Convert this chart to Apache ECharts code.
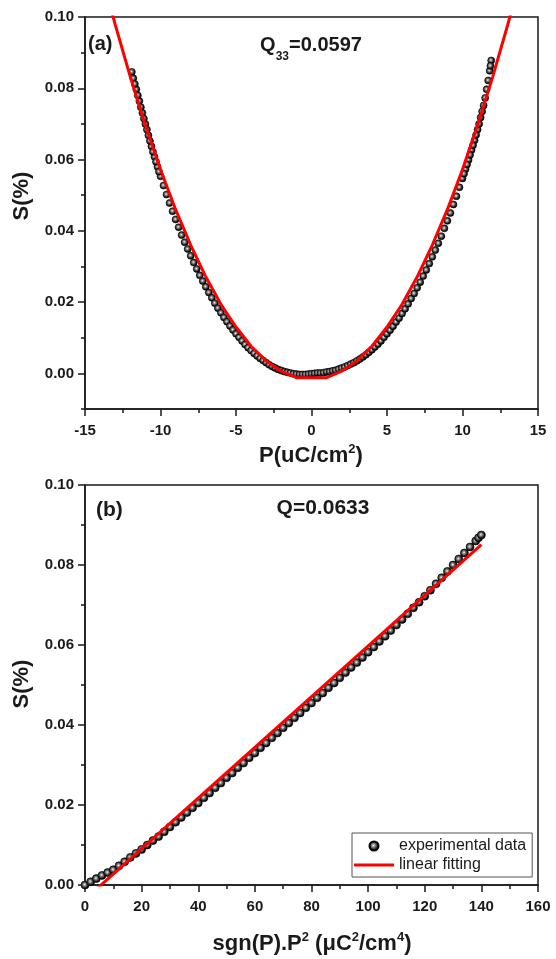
<!DOCTYPE html>
<html>
<head>
<meta charset="utf-8">
<script src="https://cdn.jsdelivr.net/npm/echarts@6/dist/echarts.min.js"></script>
<style>
  html, body { margin: 0; padding: 0; background: #fff; }
  #main { width: 556px; height: 959px; }
</style>
</head>
<body>
<div id="main"></div>
<script>
  // (a) S vs P, experimental points (end points near |P|>10 appended at the end)
  var topP = [-11.9, -11.8, -11.6, -11.4, -11.2, -11.0, -10.8, -10.6, -10.4, -10.2, -10.0, -9.8, -9.6, -9.4, -9.2, -9.0,
    -8.8, -8.6, -8.4, -8.2, -8.0, -7.8, -7.6, -7.4, -7.2, -7.0, -6.8, -6.6, -6.4, -6.2, -6.0, -5.8, -5.6, -5.4, -5.2, -5.0,
    -4.8, -4.6, -4.4, -4.2, -4.0, -3.8, -3.6, -3.4, -3.2, -3.0, -2.8, -2.6, -2.4, -2.2, -2.0, -1.8, -1.6, -1.4, -1.2, -1.0,
    -0.8, -0.6, -0.4, -0.2, 0.0,
    0.2, 0.4, 0.6, 0.8, 1.0, 1.2, 1.4, 1.6, 1.8, 2.0, 2.2, 2.4, 2.6, 2.8, 3.0, 3.2, 3.4, 3.6, 3.8, 4.0,
    4.2, 4.4, 4.6, 4.8, 5.0, 5.2, 5.4, 5.6, 5.8, 6.0, 6.2, 6.4, 6.6, 6.8, 7.0, 7.2, 7.4, 7.6, 7.8, 8.0,
    8.2, 8.4, 8.6, 8.8, 9.0, 9.2, 9.4, 9.6, 9.8, 10.0, 10.2, 10.4, 10.6, 10.8, 11.0, 11.2, 11.4, 11.6, 11.8, 11.9,
    -11.7, -11.5, -11.3, -11.1, -10.9, -10.7, -10.5, -10.3, -10.1,
    10.1, 10.3, 10.5, 10.7, 10.9, 11.1, 11.3, 11.5, 11.7, 11.85];
  var topS = [0.0846, 0.0828, 0.0797, 0.0764, 0.0731, 0.0700, 0.0668, 0.0637, 0.0608, 0.0580, 0.0553, 0.0527, 0.0502, 0.0478, 0.0455, 0.0432,
    0.0410, 0.0388, 0.0368, 0.0349, 0.0330, 0.0311, 0.0293, 0.0275, 0.0259, 0.0243, 0.0227, 0.0212, 0.0197, 0.0183, 0.0170, 0.0157, 0.0145, 0.0133, 0.0122, 0.0111,
    0.0101, 0.0091, 0.0081, 0.0072, 0.0064, 0.0056, 0.0049, 0.0042, 0.0036, 0.0030, 0.0024, 0.0019, 0.0015, 0.0011, 0.0008, 0.0005, 0.0003, 0.0001, -0.0001, -0.0002,
    -0.0003, -0.0003, -0.0003, -0.0002, -0.0001,
    0.0000, 0.0001, 0.0001, 0.0002, 0.0004, 0.0005, 0.0007, 0.0009, 0.0012, 0.0015, 0.0018, 0.0022, 0.0026, 0.0030, 0.0035, 0.0040, 0.0046, 0.0052, 0.0059, 0.0066,
    0.0074, 0.0082, 0.0091, 0.0101, 0.0111, 0.0121, 0.0132, 0.0144, 0.0155, 0.0168, 0.0181, 0.0195, 0.0210, 0.0224, 0.0240, 0.0256, 0.0273, 0.0290, 0.0308, 0.0327,
    0.0346, 0.0365, 0.0385, 0.0407, 0.0428, 0.0450, 0.0474, 0.0497, 0.0522, 0.0547, 0.0573, 0.0599, 0.0627, 0.0654, 0.0684, 0.0718, 0.0752, 0.0797, 0.0849, 0.0878,
    0.0812, 0.0780, 0.0747, 0.0715, 0.0684, 0.0652, 0.0622, 0.0594, 0.0566,
    0.0560, 0.0586, 0.0613, 0.0640, 0.0669, 0.0700, 0.0735, 0.0773, 0.0822, 0.0863];

  // (a) quadratic fit
  var topFitP = [-13.5, -13, -12, -11, -10, -9, -8, -7, -6, -5, -4, -3, -2, -1, 1, 2, 3, 4, 5, 6, 7, 8, 9, 10, 11, 12, 13, 13.5];
  var topFitS = [0.1057, 0.0979, 0.0832, 0.0696, 0.0572, 0.0460, 0.0360, 0.0271, 0.0194, 0.0130, 0.0076, 0.0035, 0.0006, -0.0012,
    -0.0012, 0.0006, 0.0035, 0.0076, 0.0130, 0.0194, 0.0271, 0.0360, 0.0460, 0.0572, 0.0696, 0.0832, 0.0979, 0.1057];

  // (b) S vs sgn(P).P^2
  var botX = [0, 2, 4, 6, 8, 10, 12, 14, 16, 18, 20, 22, 24, 26, 28, 30, 32, 34, 36, 38, 40, 42, 44, 46, 48, 50,
    52, 54, 56, 58, 60, 62, 64, 66, 68, 70, 72, 74, 76, 78, 80, 82, 84, 86, 88, 90, 92, 94, 96, 98, 100,
    102, 104, 106, 108, 110, 112, 114, 116, 118, 120, 122, 124, 126, 128, 130, 132, 134, 136, 138, 139, 140];
  var botS = [0.0000, 0.0008, 0.0016, 0.0024, 0.0031, 0.0038, 0.0048, 0.0058, 0.0069, 0.0079, 0.0089, 0.0100, 0.0111, 0.0121, 0.0133, 0.0145,
    0.0157, 0.0169, 0.0181, 0.0193, 0.0205, 0.0218, 0.0230, 0.0243, 0.0255, 0.0268,
    0.0280, 0.0293, 0.0305, 0.0318, 0.0330, 0.0343, 0.0355, 0.0368, 0.0380, 0.0393, 0.0405, 0.0418, 0.0430, 0.0443, 0.0455,
    0.0468, 0.0480, 0.0493, 0.0505, 0.0518, 0.0531, 0.0544, 0.0556, 0.0569, 0.0582,
    0.0595, 0.0609, 0.0622, 0.0636, 0.0650, 0.0664, 0.0678, 0.0693, 0.0707, 0.0722, 0.0737, 0.0753, 0.0768, 0.0784, 0.0800,
    0.0815, 0.0830, 0.0845, 0.0860, 0.0868, 0.0875];
  var botFitX = [0, 140];
  var botFitS = [-0.0036, 0.0851];

  // tick values
  var topYMajor = [0, 0.02, 0.04, 0.06, 0.08, 0.10];
  var topYMinor = [-0.01, 0.01, 0.03, 0.05, 0.07, 0.09];

  var FONT = 'Liberation Sans, Arial, sans-serif';
  var INK = '#1a1a1a';

  function pairs(xs, ys) {
    var out = [];
    for (var i = 0; i < xs.length; i++) out.push([xs[i], ys[i]]);
    return out;
  }

  var ball = {
    type: 'radial', x: 0.45, y: 0.45, r: 0.55,
    colorStops: [{offset: 0, color: '#f4f4f4'}, {offset: 0.35, color: '#777'}, {offset: 0.75, color: '#111'}, {offset: 1, color: '#000'}]
  };

  function valueAxis(extra) {
    var ax = {
      type: 'value',
      axisLine: {show: true, onZero: false, lineStyle: {color: INK, width: 1.5}},
      axisTick: {show: true, inside: false, length: 7, lineStyle: {color: INK, width: 1.5}},
      minorTick: {show: true, splitNumber: 2, length: 4, lineStyle: {color: INK, width: 1.5}},
      splitLine: {show: false},
      minorSplitLine: {show: false},
      axisLabel: {fontFamily: FONT, fontWeight: 'bold', fontSize: 15, color: INK}
    };
    for (var k in extra) ax[k] = extra[k];
    return ax;
  }

  var chart = echarts.init(document.getElementById('main'));

  var bigTxt = {fontFamily: FONT, fontWeight: 'bold', fontSize: 22, lineHeight: 24, fill: INK, verticalAlign: 'bottom'};
  var supTxt = {fontFamily: FONT, fontWeight: 'bold', fontSize: 13, lineHeight: 13, fill: INK, verticalAlign: 'top'};

  chart.setOption({
    backgroundColor: '#fff',
    animation: false,
    grid: [
      {left: 85, top: 17, width: 453, height: 392, show: true, borderColor: INK, borderWidth: 1.5},
      {left: 85, top: 485, width: 453, height: 400, show: true, borderColor: INK, borderWidth: 1.5}
    ],
    xAxis: [
      valueAxis({gridIndex: 0, min: -15, max: 15, interval: 5,
        axisLabel: {fontFamily: FONT, fontWeight: 'bold', fontSize: 15, color: INK, margin: 14}}),
      valueAxis({gridIndex: 1, min: 0, max: 160, interval: 20,
        axisLabel: {fontFamily: FONT, fontWeight: 'bold', fontSize: 15, color: INK, margin: 14}})
    ],
    yAxis: [
      valueAxis({gridIndex: 0, position: 'left', min: -0.01, max: 0.10, interval: 0.01,
        minorTick: {show: false},
        axisTick: {show: true, length: 7, customValues: topYMajor, lineStyle: {color: INK, width: 1.5}},
        axisLabel: {fontFamily: FONT, fontWeight: 'bold', fontSize: 15, color: INK, margin: 11,
          customValues: topYMajor, formatter: function (v) { return v.toFixed(2); }}}),
      valueAxis({gridIndex: 0, position: 'left', offset: 0, min: -0.01, max: 0.10, interval: 0.01,
        axisLine: {show: false, onZero: false}, minorTick: {show: false},
        axisTick: {show: true, length: 4, customValues: topYMinor, lineStyle: {color: INK, width: 1.5}},
        axisLabel: {show: false}}),
      valueAxis({gridIndex: 1, min: 0, max: 0.10, interval: 0.02,
        axisLabel: {fontFamily: FONT, fontWeight: 'bold', fontSize: 15, color: INK, margin: 11,
          formatter: function (v) { return v.toFixed(2); }}})
    ],
    legend: {
      data: [
        {name: 'experimental data'},
        {name: 'linear fitting', icon: 'path://M0,0 L40,0 L40,3 L0,3 Z', itemStyle: {color: '#ff0000'}}
      ],
      orient: 'vertical', left: 352, top: 833,
      backgroundColor: '#fff', borderColor: '#555', borderWidth: 1,
      padding: [5, 6, 4, 2], itemGap: 3, itemWidth: 40, itemHeight: 9,
      textStyle: {fontFamily: FONT, fontSize: 16, color: INK}
    },
    graphic: [
      {type: 'text', x: 88, y: 44, style: {text: '(a)', font: 'bold 20px ' + FONT, fill: INK, verticalAlign: 'middle'}},
      {type: 'text', x: 311, y: 46, style: {
        text: '{m|Q}{s|33}{m|=0.0597}', align: 'center', verticalAlign: 'middle',
        rich: {
          m: {fontFamily: FONT, fontWeight: 'bold', fontSize: 20, lineHeight: 22, fill: INK, verticalAlign: 'top'},
          s: {fontFamily: FONT, fontWeight: 'bold', fontSize: 12, lineHeight: 12, padding: [16, 0, 0, 0], fill: INK, verticalAlign: 'top'}
        }}},
      {type: 'text', x: 96, y: 510, style: {text: '(b)', font: 'bold 21px ' + FONT, fill: INK, verticalAlign: 'middle'}},
      {type: 'text', x: 323, y: 508, style: {text: 'Q=0.0633', font: 'bold 21px ' + FONT, fill: INK, align: 'center', verticalAlign: 'middle'}},
      {type: 'text', x: 22, y: 196, rotation: Math.PI / 2, style: {text: 'S(%)', font: 'bold 22px ' + FONT, fill: INK, align: 'center', verticalAlign: 'middle'}},
      {type: 'text', x: 22, y: 684, rotation: Math.PI / 2, style: {text: 'S(%)', font: 'bold 22px ' + FONT, fill: INK, align: 'center', verticalAlign: 'middle'}},
      {type: 'text', x: 311, y: 455, style: {
        text: '{m|P(uC/cm}{p|2}{m|)}', align: 'center', verticalAlign: 'middle',
        rich: {m: bigTxt, p: supTxt}}},
      {type: 'text', x: 312, y: 943, style: {
        text: '{m|sgn(P).P}{p|2}{m| (\u03bcC}{p|2}{m|/cm}{p|4}{m|)}', align: 'center', verticalAlign: 'middle',
        rich: {m: bigTxt, p: supTxt}}}
    ],
    series: [
      {name: 'exp a', type: 'scatter', xAxisIndex: 0, yAxisIndex: 0, data: pairs(topP, topS),
        symbolSize: 7, itemStyle: {color: ball, borderColor: '#000', borderWidth: 0.6, opacity: 1}, z: 2},
      {name: 'fit a', type: 'line', xAxisIndex: 0, yAxisIndex: 0, data: pairs(topFitP, topFitS),
        showSymbol: false, symbol: 'none', lineStyle: {color: '#ff0000', width: 3}, itemStyle: {color: '#ff0000'}, z: 3},
      {name: 'experimental data', type: 'scatter', xAxisIndex: 1, yAxisIndex: 2, data: pairs(botX, botS),
        symbolSize: 8, itemStyle: {color: ball, borderColor: '#000', borderWidth: 0.6, opacity: 1}, z: 2},
      {name: 'linear fitting', type: 'line', xAxisIndex: 1, yAxisIndex: 2, data: pairs(botFitX, botFitS),
        showSymbol: false, symbol: 'none', lineStyle: {color: '#ff0000', width: 3}, itemStyle: {color: '#ff0000'}, z: 3}
    ]
  });
</script>
</body>
</html>
